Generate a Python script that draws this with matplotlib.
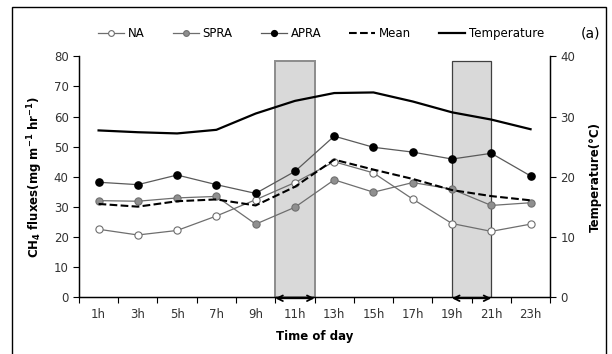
import matplotlib
matplotlib.use("Agg")
import matplotlib.pyplot as plt
from matplotlib import font_manager

hours = ['1h', '3h', '5h', '7h', '9h', '11h', '13h', '15h', '17h', '19h', '21h', '23h']
na = [22.6, 20.7, 22.2, 27.0, 32.4, 38.1, 45.0, 41.3, 32.6, 24.5, 21.9, 24.3]
spra = [32.1, 31.9, 33.0, 33.5, 24.3, 29.9, 39.0, 34.9, 38.1, 35.9, 30.5, 31.4]
apra = [38.2, 37.4, 40.6, 37.4, 34.5, 41.8, 53.5, 49.8, 48.2, 45.9, 47.8, 40.3]
mean = [31.0, 30.1, 31.9, 32.5, 30.5, 36.7, 45.7, 42.4, 39.3, 35.6, 33.6, 32.2]
temp = [27.7, 27.4, 27.2, 27.8, 30.5, 32.6, 33.9, 34.0, 32.5, 30.7, 29.5, 27.9]

# shaded periods (category index start, end) and box height
shade_spans = [(4.5, 5.5), (9.0, 10.0)]
shade_top = 78.5

names = {f.name for f in font_manager.fontManager.ttflist}
tick_font = 'Liberation Sans Narrow' if 'Liberation Sans Narrow' in names else 'DejaVu Sans'

x = list(range(len(hours)))

fig = plt.figure(figsize=(6.12, 3.54), dpi=100)
ax = fig.add_axes([0.129, 0.160, 0.770, 0.681])
ax2 = ax.twinx()

# shaded boxes
edge_cols = ['#8c8c8c', '#404040']
edge_lws = [1.4, 0.9]
for (s, e), ec, lw in zip(shade_spans, edge_cols, edge_lws):
    ax.bar((s + e) / 2, shade_top, width=e - s, color='#d9d9d9',
           edgecolor=ec, linewidth=lw, zorder=1)
    ax.annotate('', xy=(s, -0.3), xytext=(e, -0.3), xycoords='data',
                arrowprops=dict(arrowstyle='<->', color='black', lw=1.3,
                                shrinkA=0, shrinkB=0), annotation_clip=False)

l1, = ax.plot(x, na, '-o', color='#6e6e6e', lw=0.9, ms=5.2, mfc='white',
              mec='#6e6e6e', mew=0.8, label='NA', zorder=3)
l2, = ax.plot(x, spra, '-o', color='#6e6e6e', lw=0.9, ms=5.2, mfc='#8f8f8f',
              mec='#707070', mew=0.8, label='SPRA', zorder=3)
l3, = ax.plot(x, apra, '-o', color='#5a5a5a', lw=0.9, ms=5.2, mfc='black',
              mec='black', label='APRA', zorder=3)
l4, = ax.plot(x, mean, '--', color='black', lw=1.5, label='Mean', zorder=4)
l5, = ax2.plot(x, temp, '-', color='black', lw=1.6, label='Temperature')

ax.set_xlim(-0.5, 11.5)
ax.set_ylim(0, 80)
ax2.set_ylim(0, 40)
ax.set_yticks(range(0, 81, 10))
ax2.set_yticks(range(0, 41, 10))
ax.set_xticks([i - 0.5 for i in range(13)])
ax.set_xticklabels([])
ax.set_xticks(x, minor=True)
ax.set_xticklabels(hours, minor=True)
ax.tick_params(axis='x', which='major', length=4, direction='out')
ax.tick_params(axis='x', which='minor', length=0, pad=8)
ax.tick_params(axis='y', length=4, direction='out')
ax2.tick_params(axis='y', length=4, direction='out')

for a in (ax, ax2):
    a.spines['top'].set_visible(False)
    for sp in a.spines.values():
        sp.set_linewidth(0.9)
    for lab in a.get_xticklabels(which='both') + a.get_yticklabels():
        lab.set_fontfamily(tick_font)
        lab.set_fontsize(8.5)
        lab.set_color('#333333')

ax.set_xlabel('Time of day', fontsize=8.5, fontweight='bold', labelpad=6)
ax.set_ylabel('CH$_\\mathbf{4}$ fluxes(mg m$^{\\mathbf{-1}}$ hr$^{\\mathbf{-1}}$)',
              fontsize=8.5, fontweight='bold', labelpad=6)
ax2.set_ylabel('Temperature(\u00b0C)', fontsize=8.5, fontweight='bold', labelpad=10)

leg = fig.legend(handles=[l1, l2, l3, l4, l5], loc='center', ncol=5,
                 bbox_to_anchor=(0.525, 0.905), frameon=False, markerscale=0.8,
                 handlelength=2.2, columnspacing=2.4, handletextpad=0.3,
                 prop={'family': tick_font, 'size': 8.5})

fig.text(0.965, 0.905, '(a)', fontsize=10, ha='center', va='center',
         family=tick_font)

# outer frame
fig.add_artist(plt.Rectangle((0.019, -0.05), 0.972, 1.03, fill=False,
                             edgecolor='black', lw=1.0,
                             transform=fig.transFigure))

fig.savefig('out.png', dpi=100)
